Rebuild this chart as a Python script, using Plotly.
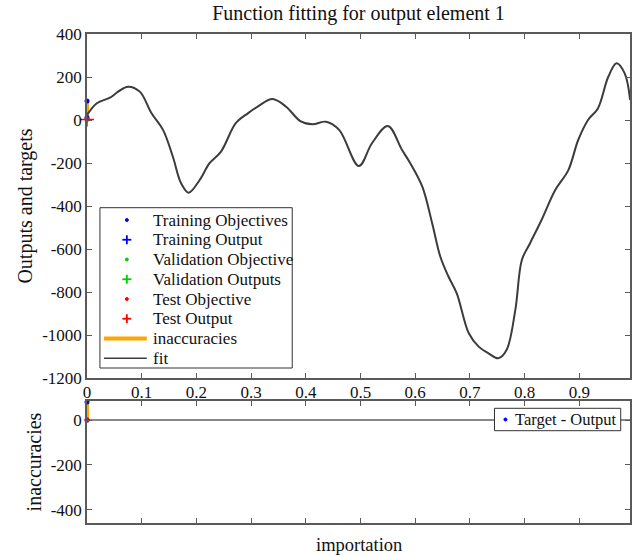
import plotly.graph_objects as go

# Fit curve (x, output)
fit_x = [0.000, 0.018, 0.042, 0.057, 0.075, 0.0965, 0.118, 0.139, 0.157, 0.172, 0.186,
         0.206, 0.224, 0.245, 0.272, 0.294, 0.312, 0.339, 0.364, 0.390, 0.412, 0.437,
         0.461, 0.497, 0.521, 0.550, 0.576, 0.591, 0.613, 0.631, 0.646, 0.661, 0.676,
         0.698, 0.716, 0.734, 0.752, 0.767, 0.783, 0.795, 0.810, 0.831, 0.856, 0.880,
         0.898, 0.916, 0.934, 0.953, 0.968, 0.983, 0.993]
fit_y = [23, 78, 104, 132, 155, 132, 31, -46, -171, -294, -338,
         -279, -201, -147, -15, 31, 62, 98, 62, -5, -20, -8,
         -46, -214, -108, -28, -140, -201, -310, -480, -636, -729, -806,
         -992, -1054, -1085, -1108, -1070, -884, -651, -573, -465, -326, -233,
         -93, 0, 54, 201, 264, 217, 93]

# Sample points at x = 0
train_target_x = [0, 0]
train_target_y = [88, 12]
test_target_x = [0]
test_target_y = [4]
test_output_x = [0]
test_output_y = [2]
err_line_x = [0, 0]
err_line_y = [88, 4]

# Error plot
err_x = [0, 0]
err_y = [80, 0]
zero_x = [0, 0.993]
zero_y = [0, 0]

title = "Function fitting for output element 1"
xticks = [0, 0.1, 0.2, 0.3, 0.4, 0.5, 0.6, 0.7, 0.8, 0.9]
xticklabels = ["0", "0.1", "0.2", "0.3", "0.4", "0.5", "0.6", "0.7", "0.8", "0.9"]
yticks_top = [400, 200, 0, -200, -400, -600, -800, -1000, -1200]
yticklabels_top = ["400", "200", "0", "-200", "-400", "-600", "-800", "-1000", "-1200"]
yticks_bot = [0, -200, -400]
yticklabels_bot = ["0", "-200", "-400"]
legend_labels = ["Training Objectives", "Training Output", "Validation Objective",
                 "Validation Outputs", "Test Objective", "Test Output", "inaccuracies", "fit"]
legend2_label = "Target - Output"

FONT = "Liberation Serif"
AX = "#5a5a5a"
TXT = "#111111"
BLUE, GREEN, RED, ORANGE, FIT = "#0000ff", "#00cc00", "#ff0000", "#ffa500", "#3c3c3c"

# figure geometry (pixels) -> paper coordinates
L, R, T, B, W, H = 87, 0, 34, 34, 632, 557
PW, PH = W - L - R, H - T - B


def PX(px):
    return (px - L) / PW


def PY(py):
    return (H - B - py) / PH


fig = go.Figure()

# Top plot
fig.add_trace(go.Scatter(x=err_line_x, y=err_line_y, mode="lines", showlegend=False,
                         line=dict(color=ORANGE, width=4), cliponaxis=False))
fig.add_trace(go.Scatter(x=fit_x, y=fit_y, mode="lines", showlegend=False,
                         line=dict(color=FIT, width=2, shape="spline", smoothing=1.0)))
fig.add_trace(go.Scatter(x=train_target_x, y=train_target_y, mode="markers", showlegend=False,
                         marker=dict(color=BLUE, size=5), cliponaxis=False))
fig.add_trace(go.Scatter(x=test_target_x, y=test_target_y, mode="markers", showlegend=False,
                         marker=dict(color=RED, size=5), cliponaxis=False))
fig.add_trace(go.Scatter(x=test_output_x, y=test_output_y, mode="markers", showlegend=False,
                         marker=dict(color=RED, symbol="cross-thin", size=10, line=dict(color=RED, width=1.5)),
                         cliponaxis=False))

# Bottom error plot
fig.add_trace(go.Scatter(x=zero_x, y=zero_y, mode="lines", showlegend=False,
                         line=dict(color="#606060", width=1.5), xaxis="x2", yaxis="y2"))
fig.add_trace(go.Scatter(x=err_x, y=err_y, mode="lines", showlegend=False,
                         line=dict(color=ORANGE, width=4), xaxis="x2", yaxis="y2", cliponaxis=False))
fig.add_trace(go.Scatter(x=err_x, y=err_y, mode="markers", showlegend=False,
                         marker=dict(color=BLUE, size=5), xaxis="x2", yaxis="y2", cliponaxis=False))
fig.add_trace(go.Scatter(x=[0], y=[0], mode="markers", showlegend=False,
                         marker=dict(color=RED, size=5), xaxis="x2", yaxis="y2", cliponaxis=False))

# Legends drawn as shapes + text
shapes = []
annotations = []
shapes.append(dict(type="rect", xref="paper", yref="paper", x0=PX(100), x1=PX(293), y0=PY(368), y1=PY(207.7),
                   line=dict(color="#333", width=1), fillcolor="white", layer="above"))
sym_colors = [BLUE, BLUE, GREEN, GREEN, RED, RED]
for i, lab in enumerate(legend_labels):
    cy = 220 + 19.75 * i
    annotations.append(dict(text=lab, x=PX(151), y=PY(cy), xref="paper", yref="paper", showarrow=False,
                            xanchor="left", yanchor="middle", font=dict(family=FONT, size=17, color=TXT)))
    if i < 6:
        c = sym_colors[i]
        if i % 2 == 0:
            shapes.append(dict(type="circle", xref="paper", yref="paper", x0=PX(125.5), x1=PX(128.5),
                               y0=PY(cy + 1.5), y1=PY(cy - 1.5), line=dict(color=c, width=1), fillcolor=c,
                               layer="above"))
        else:
            shapes.append(dict(type="line", xref="paper", yref="paper", x0=PX(122.5), x1=PX(131.5),
                               y0=PY(cy), y1=PY(cy), line=dict(color=c, width=1.8), layer="above"))
            shapes.append(dict(type="line", xref="paper", yref="paper", x0=PX(127), x1=PX(127),
                               y0=PY(cy - 4.5), y1=PY(cy + 4.5), line=dict(color=c, width=1.8), layer="above"))
    elif i == 6:
        shapes.append(dict(type="line", xref="paper", yref="paper", x0=PX(104), x1=PX(147),
                           y0=PY(cy), y1=PY(cy), line=dict(color=ORANGE, width=4), layer="above"))
    else:
        shapes.append(dict(type="line", xref="paper", yref="paper", x0=PX(104), x1=PX(147),
                           y0=PY(cy), y1=PY(cy), line=dict(color=FIT, width=1.5), layer="above"))

shapes.append(dict(type="rect", xref="paper", yref="paper", x0=PX(496), x1=PX(622.7), y0=PY(430.7), y1=PY(408.3),
                   line=dict(color="#333", width=1), fillcolor="white", layer="above"))
shapes.append(dict(type="circle", xref="paper", yref="paper", x0=PX(505.5), x1=PX(508.5),
                   y0=PY(421), y1=PY(418), line=dict(color=BLUE, width=1), fillcolor=BLUE, layer="above"))
annotations.append(dict(text=legend2_label, x=PX(514.5), y=PY(419.5), xref="paper", yref="paper", showarrow=False,
                        xanchor="left", yanchor="middle", font=dict(family=FONT, size=16.5, color=TXT)))

annotations.append(dict(text="importation", x=0.5, y=PY(545), xref="paper", yref="paper",
                        showarrow=False, xanchor="center", yanchor="middle",
                        font=dict(family=FONT, size=18.5, color=TXT)))

axis_common = dict(showline=True, linecolor=AX, linewidth=1.5, mirror="ticks", ticks="inside",
                   ticklen=5, tickcolor=AX, showgrid=False, zeroline=False,
                   tickfont=dict(family=FONT, size=17, color=TXT))

fig.update_layout(
    width=W, height=H,
    margin=dict(l=L, r=R, t=T, b=B),
    paper_bgcolor="white", plot_bgcolor="white",
    font=dict(family=FONT, color=TXT),
    title=dict(text=title, x=0.5, xref="paper", y=1 - 13 / H, yref="container",
               xanchor="center", yanchor="middle", font=dict(family=FONT, size=20, color=TXT)),
    xaxis=dict(axis_common, domain=[0, 1], range=[0, 0.9927], anchor="y",
               tickvals=xticks, showticklabels=False),
    yaxis=dict(axis_common, domain=[PY(378), 1], range=[-1200, 400], anchor="x",
               tickvals=yticks_top, ticktext=yticklabels_top,
               title=dict(text="Outputs and targets", standoff=4, font=dict(family=FONT, size=20, color=TXT))),
    xaxis2=dict(axis_common, domain=[0, 1], range=[0, 0.9927], anchor="y2", side="top",
                tickvals=xticks, ticktext=xticklabels, ticklabelstandoff=-6),
    yaxis2=dict(axis_common, domain=[0, PY(401)], range=[-460, 85], anchor="x2",
                tickvals=yticks_bot, ticktext=yticklabels_bot,
                title=dict(text="inaccuracies", standoff=4, font=dict(family=FONT, size=20, color=TXT))),
    shapes=shapes,
    annotations=annotations,
    showlegend=False,
)

fig.write_html("out.html")
